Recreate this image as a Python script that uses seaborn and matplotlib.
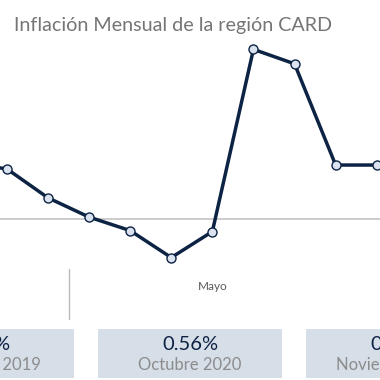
import matplotlib
matplotlib.use('Agg')
import matplotlib.pyplot as plt
from matplotlib.patches import Rectangle
import seaborn as sns
import pandas as pd

# inflacion mensual CARD (%), nov 2019 - sep 2020
months = ['Nov', 'Dic', 'Ene', 'Feb', 'Mar', 'Abr', 'May', 'Jun', 'Jul', 'Ago', 'Sep']
inflation = [0.58, 0.52, 0.22, 0.02, -0.12, -0.40, -0.13, 1.76, 1.61, 0.56, 0.56]
tick_labels = {6: 'Mayo'}

card_values = ['0.52%', '0.56%', '0.48%']
card_labels = ['Diciembre 2019', 'Octubre 2020', 'Noviembre 2020']

navy = '#0d2344'
sns.set_style('white')
plt.rcParams['font.family'] = ['Lato', 'DejaVu Sans']

df = pd.DataFrame({'pos': range(len(months)), 'mes': months, 'valor': inflation})

fig = plt.figure(figsize=(3.8, 3.8), dpi=100)
ax = fig.add_axes([0, 0, 1, 1])
ax.axhline(0, color='#c8c8c8', lw=1.3, zorder=0)
sns.lineplot(data=df, x='pos', y='valor', ax=ax, color=navy, linewidth=2.5,
             marker='o', markersize=6.5, markerfacecolor='#dbe3f0',
             markeredgecolor=navy, markeredgewidth=1)
ax.set_xlim(0.832, 10.08)
ax.set_ylim(-1.670, 2.272)
ax.axis('off')

# etiquetas de mes y separador de ano
for pos, lab in tick_labels.items():
    ax.text(pos, 1 - 286 / 380, lab, transform=ax.get_xaxis_transform(),
            ha='center', va='center', fontsize=8.5, color='#5a5a5a')
ax.axvline(2.5, ymin=1 - 319 / 380, ymax=1 - 269 / 380, color='#bbbbbb', lw=1)

fig.text(14 / 380, 1 - 25 / 380, 'Inflación Mensual de la región CARD',
         ha='left', va='center', fontsize=14.2, color='#757575')

# tarjetas
cards = fig.add_axes([0, 0, 1, 1])
cards.set_xlim(0, 380)
cards.set_ylim(380, 0)
cards.axis('off')
cards.patch.set_alpha(0)
card_w, gap = 184, 24
for i, (val, lab) in enumerate(zip(card_values, card_labels)):
    x0 = -110 + i * (card_w + gap)
    cards.add_patch(Rectangle((x0, 329), card_w, 49, color='#d6dee8', lw=0))
    cards.text(x0 + card_w / 2, 344, val, ha='center', va='center',
               fontsize=14.5, color=navy)
    cards.text(x0 + card_w / 2, 365.5, lab, ha='center', va='center',
               fontsize=12, color='#8c8c8c')

fig.savefig('out.png', dpi=100)
